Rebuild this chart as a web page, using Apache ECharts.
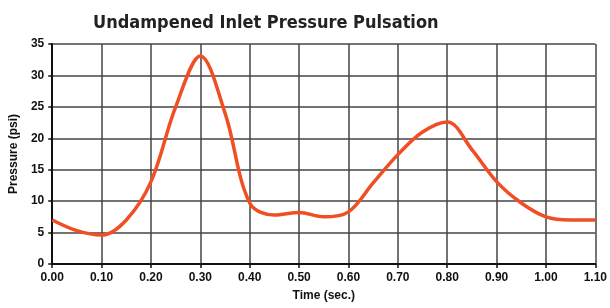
<!DOCTYPE html>
<html>
<head>
<meta charset="utf-8">
<script src="https://cdn.jsdelivr.net/npm/echarts@6/dist/echarts.min.js"></script>
<style>
html, body { margin: 0; padding: 0; background: #fff; }
#chart { width: 610px; height: 308px; }
</style>
</head>
<body>
<div id="chart"></div>
<script>
// values
var times = [0, 0.05, 0.1, 0.15, 0.2, 0.25, 0.3, 0.35, 0.4, 0.45, 0.5, 0.55, 0.6, 0.65, 0.7, 0.75, 0.8, 0.85, 0.9, 0.95, 1.0, 1.05, 1.1]
var pressure = [7.0, 5.3, 4.6, 7.0, 13.1, 25.0, 33.1, 24.0, 9.7, 7.8, 8.2, 7.5, 8.3, 12.9, 17.4, 21.0, 22.6, 18.2, 13.1, 9.7, 7.5, 7.0, 7.0]

var labelFont = 'Liberation Sans'

var chart = echarts.init(document.getElementById('chart'))
chart.setOption({
  animation: false,
  title: {
    text: 'Undampened Inlet Pressure Pulsation',
    left: 88,
    top: 9,
    textStyle: { fontFamily: 'DejaVu Sans Condensed', fontSize: 18, fontWeight: 'bold', color: '#222' }
  },
  grid: { left: 52, right: 14, top: 44, bottom: 44 },
  xAxis: {
    type: 'value',
    min: 0,
    max: 1.1,
    interval: 0.1,
    name: 'Time (sec.)',
    nameLocation: 'middle',
    nameGap: 26,
    nameTextStyle: { fontFamily: labelFont, fontSize: 12, fontWeight: 'bold', color: '#111' },
    axisLine: { lineStyle: { color: '#111', width: 2 } },
    axisTick: { show: true, length: 4, lineStyle: { color: '#111', width: 1.5 } },
    axisLabel: {
      fontFamily: labelFont, fontSize: 12, fontWeight: 'bold', color: '#111', margin: 8,
      formatter: function (v) { return v.toFixed(2) }
    },
    splitLine: { show: true, lineStyle: { color: '#444', width: 1.5 } }
  },
  yAxis: {
    type: 'value',
    min: 0,
    max: 35,
    interval: 5,
    name: 'Pressure (psi)',
    nameLocation: 'middle',
    nameGap: 28,
    nameTextStyle: { fontFamily: labelFont, fontSize: 12, fontWeight: 'bold', color: '#111' },
    axisLine: { show: true, lineStyle: { color: '#111', width: 2 } },
    axisTick: { show: true, length: 4, lineStyle: { color: '#111', width: 1.5 } },
    axisLabel: { fontFamily: labelFont, fontSize: 12, fontWeight: 'bold', color: '#111', margin: 8 },
    splitLine: { show: true, lineStyle: { color: '#444', width: 1.5 } }
  },
  series: [{
    type: 'line',
    smooth: 0.35,
    symbol: 'none',
    lineStyle: { color: '#f04e23', width: 3.5 },
    data: times.map(function (t, i) { return [t, pressure[i]] })
  }]
})
</script>
</body>
</html>
